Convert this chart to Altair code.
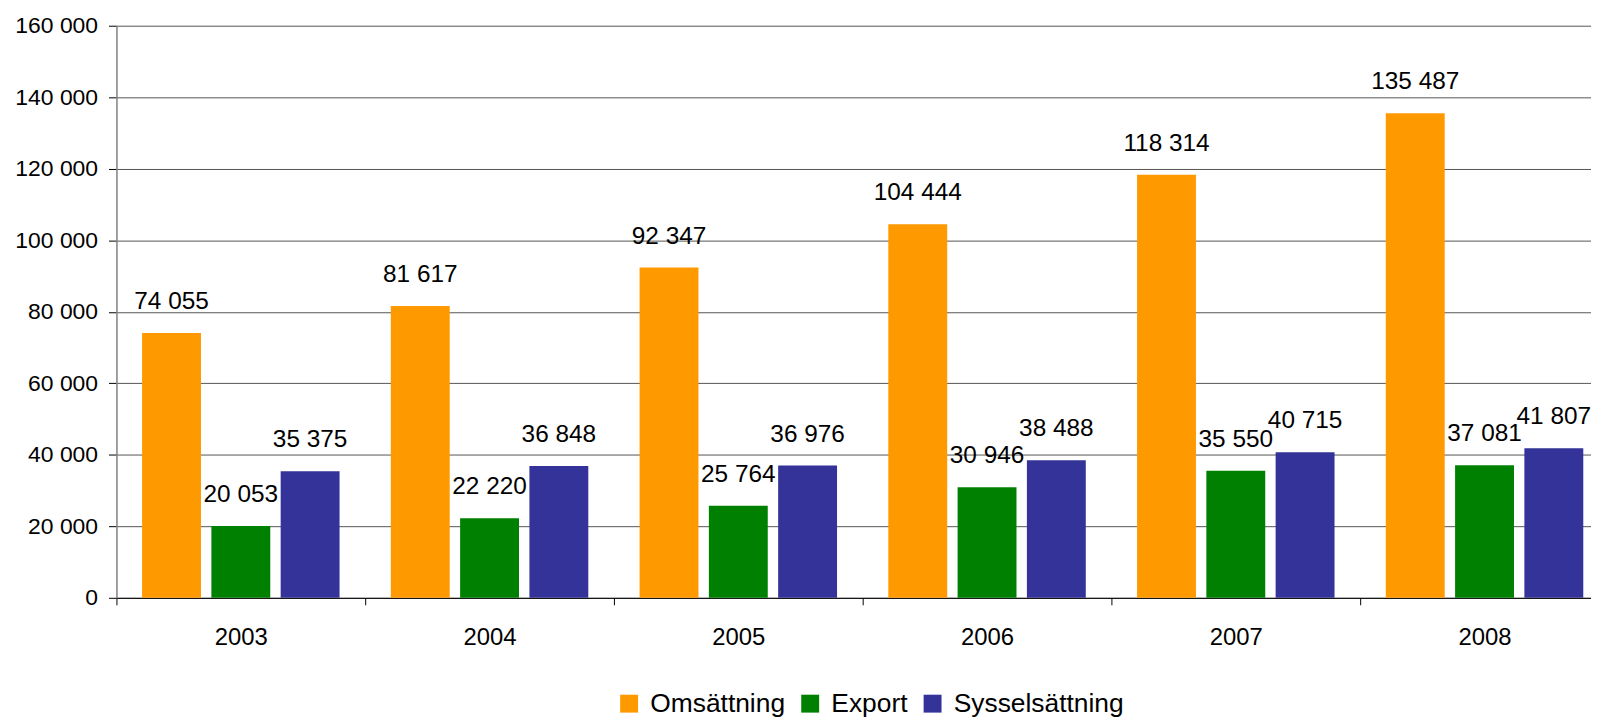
import altair as alt
import pandas as pd

years = ["2003", "2004", "2005", "2006", "2007", "2008"]
series = ["Omsättning", "Export", "Sysselsättning"]
omsattning = [74055, 81617, 92347, 104444, 118314, 135487]
export = [20053, 22220, 25764, 30946, 35550, 37081]
syssel = [35375, 36848, 36976, 38488, 40715, 41807]
colors = ["#FF9900", "#008000", "#333399"]
y_ticks = [0, 20000, 40000, 60000, 80000, 100000, 120000, 140000, 160000]

rows = []
for name, vals in zip(series, [omsattning, export, syssel]):
    for yr, v in zip(years, vals):
        rows.append({"year": yr, "series": name, "value": v,
                     "label": f"{v:,}".replace(",", " ")})
df = pd.DataFrame(rows)

FONT = "Liberation Sans"

x_enc = alt.X("year:N", sort=years,
              scale=alt.Scale(paddingInner=0, paddingOuter=0, range=[0, 1500]),
              axis=alt.Axis(title=None, labelAngle=0, labelFontSize=24, labelFont=FONT,
                            labelColor="black", tickBand="extent", tickSize=7,
                            tickColor="black", domainColor="black", labelPadding=21,
                            grid=False))
xo_enc = alt.XOffset("series:N", sort=series,
                     scale=alt.Scale(paddingInner=0.15, paddingOuter=0.37))
y_enc = alt.Y("value:Q",
              scale=alt.Scale(domain=[0, 160000], nice=False),
              axis=alt.Axis(title=None, values=y_ticks, labelFontSize=23, labelFont=FONT,
                            labelColor="black", tickSize=8, tickColor="black",
                            domainColor="#808080", domainWidth=1.5,
                            gridColor="#555555", gridWidth=1, labelPadding=11,
                            labelExpr="replace(format(datum.value, ','), ',', ' ')"))
color_enc = alt.Color("series:N", sort=series,
                      scale=alt.Scale(domain=series, range=colors),
                      legend=alt.Legend(title=None, orient="none", direction="horizontal",
                                        legendX=502, legendY=668,
                                        labelFontSize=26.5, labelFont=FONT,
                                        labelColor="black", labelLimit=0,
                                        symbolType="square", symbolSize=324,
                                        symbolStrokeWidth=0, labelOffset=8,
                                        columnPadding=11))

bars = alt.Chart(df).mark_bar(opacity=1).encode(
    x=x_enc, xOffset=xo_enc, y=y_enc, color=color_enc
)
texts = alt.Chart(df).mark_text(
    fontSize=24.5, font=FONT, color="black", baseline="alphabetic", dy=-24
).encode(
    x=alt.X("year:N", sort=years), xOffset=alt.XOffset("series:N", sort=series),
    y="value:Q", text="label:N"
)

chart = alt.layer(bars, texts).properties(
    width=1482, height=575,
    autosize=alt.AutoSizeParams(type="none"),
    padding={"left": 109, "top": 16, "right": 0, "bottom": 120},
    background="white",
).configure_view(stroke=None)

chart.save("out.html", embed_options={"renderer": "svg", "actions": False})
